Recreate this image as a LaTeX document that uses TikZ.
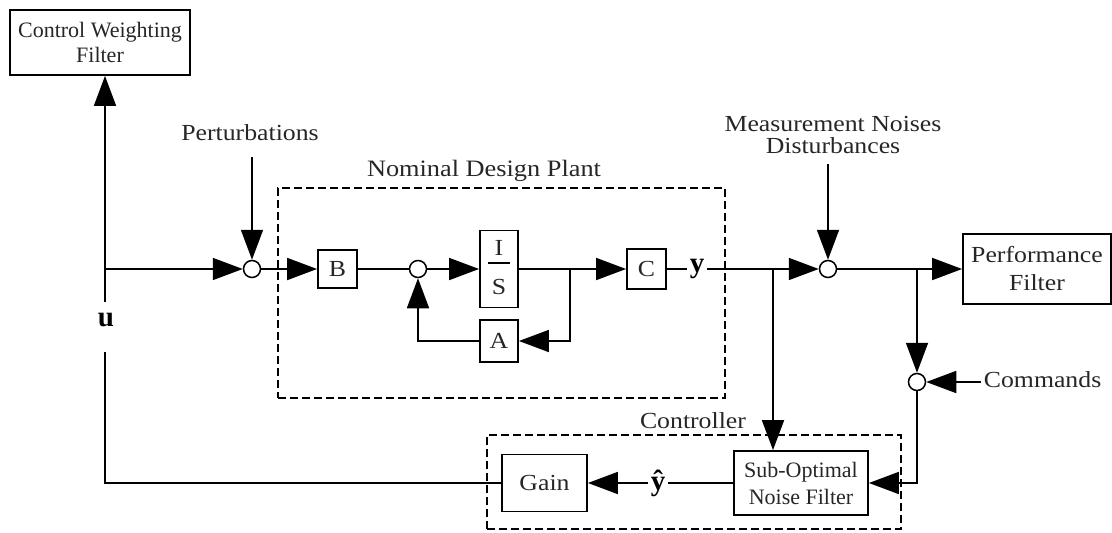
\documentclass[tikz,border=0pt]{standalone}
\usepackage{fontspec}
\setmainfont{Liberation Serif}[FakeStretch=1.12]
\newfontfamily\narrowserif{Liberation Serif}
\usetikzlibrary{arrows.meta}

\begin{document}
\begin{tikzpicture}[x=1pt, y=-1pt,
  line width=1.8pt,
  >={Triangle[length=30pt,width=22pt]},
  txt/.style={inner sep=0pt, text=black!85, font=\fontsize{23}{25}\selectfont, align=center},
  blk/.style={draw, line width=1.8pt, inner sep=0pt, align=center, text=black!85,
              font=\fontsize{23}{25}\selectfont},
  sumj/.style={draw, circle, line width=1.5pt, minimum size=17pt, inner sep=0pt},
  grp/.style={draw, line width=1.5pt, dash pattern=on 8pt off 4pt, inner sep=0pt},
  sig/.style={inner sep=0pt, inner xsep=1.5pt, font={\narrowserif\bfseries\fontsize{29}{30}\selectfont}},
]
\useasboundingbox (0,0) rectangle (1112,533);

% ---- dashed groups ----
\node[grp, minimum width=447pt, minimum height=210pt] (plant) at (501.5,293) {};
\node[txt, anchor=base, font=\fontsize{23.5}{25}\selectfont] (plantlbl) at (484,176) {Nominal Design Plant};
\node[grp, minimum width=414pt, minimum height=94pt] (ctrl) at (694,482) {};
\node[txt, anchor=base] (ctrllbl) at (693,428) {Controller};

% ---- blocks ----
\node[blk, minimum width=180pt, minimum height=65pt,
      font={\narrowserif\fontsize{22}{25}\selectfont}] (cwf) at (100,42.5) {Control Weighting\\Filter};
\node[blk, minimum width=39pt, minimum height=38pt] (B) at (337.5,269) {B};
\node[blk, minimum width=38pt, minimum height=77pt] (IS) at (499,269) {};
\node[txt] (isI) at (499,248) {I};
\node[txt] (isS) at (499,287) {S};
\draw[line width=1.3pt] (488,263) -- (510,263);
\node[blk, minimum width=38pt, minimum height=42pt] (A) at (499,341) {A};
\node[blk, minimum width=39pt, minimum height=40pt] (C) at (646.5,269) {C};
\node[blk, minimum width=148pt, minimum height=70pt,
      font=\fontsize{23}{28}\selectfont] (perf) at (1037,269) {Performance\\Filter};
\node[blk, minimum width=85pt, minimum height=57pt] (gain) at (544.5,483) {Gain};
\node[blk, minimum width=134pt, minimum height=64pt,
      font={\narrowserif\fontsize{22}{27}\selectfont}] (so) at (801,483) {Sub-Optimal\\Noise Filter};

% ---- summing junctions ----
\node[sumj] (s1) at (252,269) {};
\node[sumj] (s2) at (418,269) {};
\node[sumj] (s3) at (828,269) {};
\node[sumj] (s4) at (917,382) {};

% ---- external labels ----
\node[txt, anchor=base] (pert) at (250,140) {Perturbations};
\node[txt, anchor=base] (meas1) at (833,131) {Measurement Noises};
\node[txt, anchor=base] (meas2) at (833,153) {Disturbances};
\node[txt, anchor=base west, inner xsep=2pt] (cmd) at (981,387) {Commands};
\node[sig, anchor=base] (yl) at (697,272) {y};
\node[sig, anchor=base] (yh) at (658,490) {\^{y}};
\node[sig, anchor=base] (ulbl) at (106,326) {u};

% ---- branch points and free ends ----
\coordinate (pt) at (252,157);
\coordinate (mt) at (828,164);
\coordinate (j1) at (570,269);
\coordinate (j2) at (773,269);
\coordinate (j3) at (917,269);
\coordinate (ujn) at (105,269);
\coordinate (utop) at (105,302);
\coordinate (ubot) at (105,352);

% ---- signal flow ----
\draw[->] (pt) -- (s1.north);
\draw[->] (ujn) -- (s1.west);
\draw[->] (s1.east) -- (B.west);
\draw (B.east) -- (s2.west);
\draw[->] (s2.east) -- (IS.west);
\draw[->] (IS.east) -- (C.west);
\draw[->] (j1) |- (A.east);
\draw[->] (A.west) -| (s2.south);
\draw (C.east) -- (C.east -| yl.west);
\draw[->] (C.east -| yl.east) -- (s3.west);
\draw[->] (mt) -- (s3.north);
\draw[->] (s3.east) -- (perf.west);
\draw[->] (j3) -- (s4.north);
\draw[->] (cmd.west |- s4.east) -- (s4.east);
\draw[->] (s4.south) |- (so.east);
\draw[->] (j2) -- (j2 |- so.north);
\draw (so.west) -- (so.west -| yh.east);
\draw[->] (so.west -| yh.west) -- (gain.east);
\draw (gain.west) -| (ubot);
\draw[->] (utop) -- ([xshift=5pt]cwf.south);
\end{tikzpicture}
\end{document}
